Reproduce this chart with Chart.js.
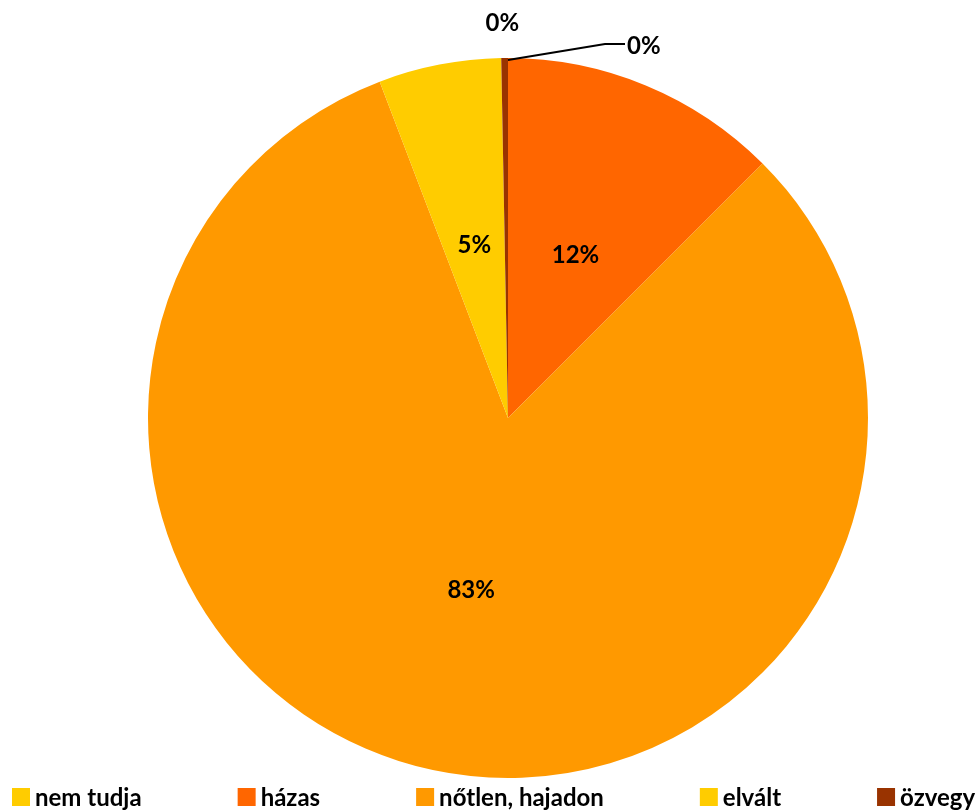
<!DOCTYPE html>
<html>
<head>
<meta charset="utf-8">
<script src="https://cdn.jsdelivr.net/npm/chart.js@4"></script>
<style>
  html, body { margin: 0; padding: 0; background: #fff; }
  #wrap { width: 975px; height: 810px; }
</style>
</head>
<body>
<div id="wrap"><canvas id="chart" width="975" height="810"></canvas></div>
<script>
const categories = ['nem tudja', 'házas', 'nőtlen, hajadon', 'elvált', 'özvegy'];
const shares = [0, 12.5, 81.7, 5.5, 0.3];
const pctLabels = ['0%', '12%', '83%', '5%', '0%'];
const colors = ['#FFCC00', '#FF6600', '#FF9900', '#FFCC00', '#993300'];

const FONT = 'bold 24px Lato, "Open Sans", sans-serif';

// etiketten + legenda zelf tekenen
const labelPlugin = {
  id: 'labelPlugin',
  afterDraw(chart) {
    const ctx = chart.ctx;
    const arcs = chart.getDatasetMeta(0).data;
    ctx.save();
    ctx.font = FONT;
    ctx.fillStyle = '#000';
    ctx.textBaseline = 'middle';

    arcs.forEach((arc, i) => {
      const { x, y, startAngle, endAngle, outerRadius } = arc.getProps(['x', 'y', 'startAngle', 'endAngle', 'outerRadius'], true);
      const mid = (startAngle + endAngle) / 2;
      if (i === 0) {
        // leader line for the empty slice
        const px = x + Math.cos(mid) * outerRadius;
        const py = y + Math.sin(mid) * outerRadius;
        ctx.strokeStyle = '#000';
        ctx.lineWidth = 2;
        ctx.beginPath();
        ctx.moveTo(px, py + 2);
        ctx.lineTo(px + 97, py - 14);
        ctx.lineTo(px + 117, py - 14);
        ctx.stroke();
        ctx.textAlign = 'left';
        ctx.fillText(pctLabels[i], px + 119, py - 12);
      } else if (shares[i] < 1) {
        const r = outerRadius + 35;
        ctx.textAlign = 'center';
        ctx.fillText(pctLabels[i], x + Math.cos(mid) * r - 2, y + Math.sin(mid) * r);
      } else {
        const r = outerRadius * 0.49;
        ctx.textAlign = 'center';
        ctx.fillText(pctLabels[i], x + Math.cos(mid) * r, y + Math.sin(mid) * r);
      }
    });

    // legend at the bottom
    let lx = 12;
    const ly = 797;
    ctx.textAlign = 'left';
    categories.forEach((c, i) => {
      ctx.fillStyle = colors[i];
      ctx.fillRect(lx, ly - 9, 18, 18);
      ctx.fillStyle = '#000';
      ctx.fillText(c, lx + 23, ly + 1);
      lx += 23 + ctx.measureText(c).width + 96;
    });
    ctx.restore();
  }
};

const ctx = document.getElementById('chart').getContext('2d');
const chart = new Chart(ctx, {
  type: 'pie',
  data: {
    labels: categories,
    datasets: [{
      data: shares,
      backgroundColor: colors,
      borderWidth: 0
    }]
  },
  options: {
    responsive: false,
    animation: false,
    layout: {
      padding: { top: 58, bottom: 32, left: 41, right: 0 }
    },
    plugins: {
      legend: { display: false },
      tooltip: { enabled: false }
    }
  },
  plugins: [labelPlugin]
});
</script>
</body>
</html>
